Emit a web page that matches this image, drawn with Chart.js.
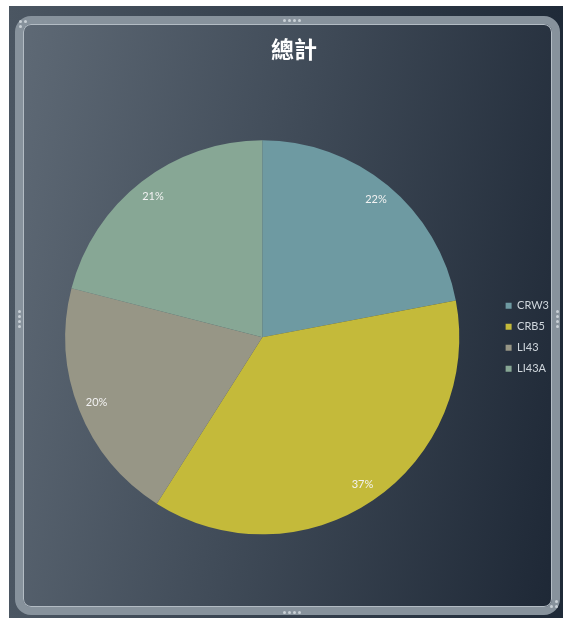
<!DOCTYPE html>
<html>
<head>
<meta charset="utf-8">
<script src="https://cdn.jsdelivr.net/npm/chart.js@4"></script>
<style>
	body { margin: 0; background: #fff; width: 563px; height: 622px; overflow: hidden; position: relative; }
	#outer {
		position: absolute; left: 9px; top: 6px; width: 554px; height: 612px;
		background: linear-gradient(to right, #4b5662, #1f2a38);
	}
	#frame {
		position: absolute; left: 15px; top: 16px; width: 545px; height: 599px;
		box-sizing: border-box; border: 8px solid #87929c; border-radius: 16px;
		box-shadow: inset 0 0 0 1px #b3bcc4;
		background: linear-gradient(100deg, #5e6975 0%, #414c59 45%, #1e2836 100%);
	}
	.dot { position: absolute; width: 3px; height: 3px; border-radius: 50%; background: #c9d0d6; }
	#chart { position: absolute; left: 0; top: 0; }
</style>
</head>
<body>
<div id="outer"></div>
<div id="frame"></div>
<div id="dots"></div>
<canvas id="chart" width="563" height="622"></canvas>
<script>
	// slice data, clockwise from 12 o'clock
	var categories = ['CRW3', 'CRB5', 'LI43', 'LI43A'];
	var shares = [22, 37, 20, 21];
	var sliceColors = ['#6e9aa2', '#c4ba3a', '#979686', '#87a795'];

	// little grip dots on the frame (decoration only)
	var dotSpots = [
		[283, 19], [288, 19], [293, 19], [298, 19],
		[283, 611], [288, 611], [293, 611], [298, 611],
		[18, 310], [18, 315], [18, 320], [18, 325],
		[556, 310], [556, 315], [556, 320], [556, 325],
		[19, 20], [24, 20], [19, 25],
		[550, 605], [555, 605], [555, 600]
	];
	var dotsBox = document.getElementById('dots');
	dotSpots.forEach(function (p) {
		var d = document.createElement('div');
		d.className = 'dot';
		d.style.left = p[0] + 'px';
		d.style.top = p[1] + 'px';
		dotsBox.appendChild(d);
	});

	/**
	 * Percent labels drawn along each slice bisector
	 */
	var pctLabels = {
		id: 'pctLabels',
		afterDatasetsDraw: function (chart) {
			var ctx = chart.ctx;
			var meta = chart.getDatasetMeta(0);
			var total = shares.reduce(function (a, b) { return a + b; }, 0);
			ctx.save();
			ctx.font = '11px Lato';
			ctx.fillStyle = '#f2f2f2';
			ctx.textAlign = 'center';
			ctx.textBaseline = 'middle';
			meta.data.forEach(function (arc, i) {
				var p = arc.getProps(['x', 'y', 'startAngle', 'endAngle', 'outerRadius'], true);
				var mid = (p.startAngle + p.endAngle) / 2;
				var r = p.outerRadius * 0.905;
				ctx.fillText(Math.round(shares[i] / total * 100) + '%', p.x + Math.cos(mid) * r, p.y + Math.sin(mid) * r);
			});
			ctx.restore();
		}
	};

	var ctx = document.getElementById('chart').getContext('2d');
	var pieChart = new Chart(ctx, {
		type: 'pie',
		data: {
			labels: categories,
			datasets: [{
				data: shares,
				backgroundColor: sliceColors,
				borderWidth: 0,
				radius: 197
			}]
		},
		options: {
			responsive: false,
			animation: false,
			layout: {
				padding: { top: 0, bottom: 20, left: 29, right: 4 }
			},
			plugins: {
				title: {
					display: true,
					text: '總計',
					color: '#ffffff',
					font: { family: 'Noto Sans CJK TC', size: 23, weight: 'bold' },
					padding: { top: 35, bottom: 10 }
				},
				legend: {
					position: 'right',
					fullSize: false,
					labels: {
						boxWidth: 6,
						boxHeight: 6,
						color: '#cfd6dc',
						font: { family: 'Lato', size: 11 },
						padding: 10
					}
				},
				tooltip: { enabled: false }
			}
		},
		plugins: [pctLabels]
	});
</script>
</body>
</html>
